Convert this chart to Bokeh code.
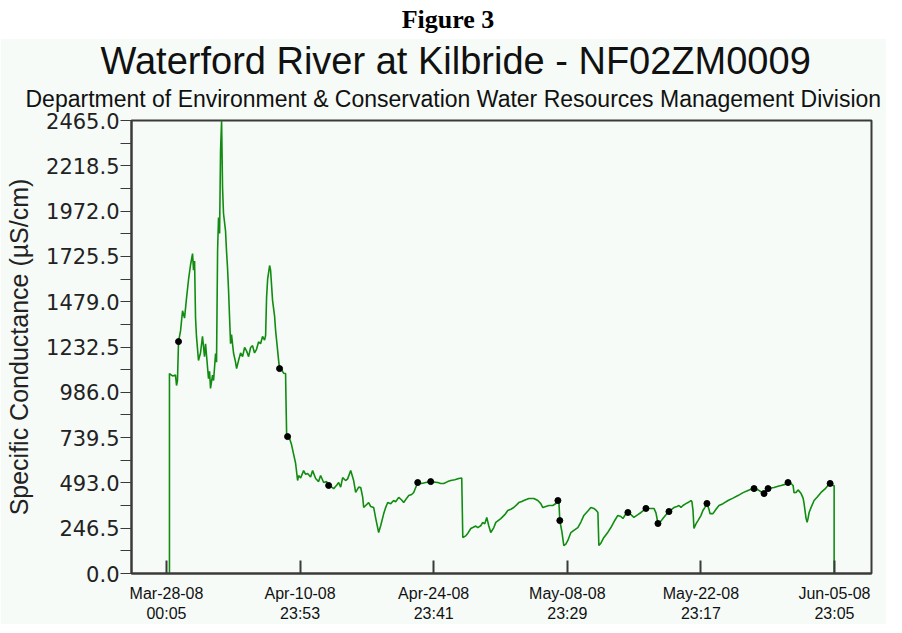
import numpy as np
import pandas as pd
from bokeh.plotting import figure
from bokeh.models import Div, Title, FixedTicker, NumeralTickFormatter, Range1d
from bokeh.layouts import column
from bokeh.embed import file_html
from bokeh.resources import INLINE

# ---------------- data ----------------
START = "2008-03-28 00:05"
# days since START
days = [0.31, 0.31, 0.63, 0.94, 1.05, 1.15, 1.26, 1.47, 1.68, 1.89, 2.10, 2.31, 2.52, 2.73, 2.83,
        2.94, 3.04, 3.14, 3.35, 3.56, 3.77, 3.98, 4.09, 4.30, 4.40, 4.51, 4.61, 4.82, 4.93, 5.14,
        5.24, 5.35, 5.45, 5.56, 5.66, 5.77, 5.87, 5.97, 6.18, 6.29, 6.39, 6.50, 6.60, 6.71, 6.81,
        7.02, 7.23, 7.34, 7.55, 7.76, 7.97, 8.18, 8.39, 8.60, 8.81, 9.01, 9.22, 9.43, 9.64, 9.85,
        10.06, 10.27, 10.38, 10.48, 10.59, 10.80, 10.90, 11.11, 11.32, 11.43, 11.64, 11.74, 11.84,
        12.05, 12.26, 12.47, 12.53, 12.58, 12.68, 12.89, 13.10, 13.31, 13.52, 13.73, 13.84, 14.05,
        14.36, 14.57, 14.78, 15.09, 15.30, 15.62, 15.93, 16.14, 16.46, 16.77, 16.98, 17.30, 17.51,
        17.82, 18.03, 18.24, 18.45, 18.76, 18.97, 19.29, 19.60, 19.81, 20.13, 20.34, 20.55, 20.65,
        20.86, 21.17, 21.38, 21.70, 21.91, 22.22, 22.43, 22.75, 22.96, 23.17, 23.48, 23.79, 24.00,
        24.32, 24.63, 24.84, 25.16, 25.37, 25.68, 25.89, 26.31, 26.73, 27.15, 27.67, 27.99, 28.41,
        28.72, 29.04, 29.45, 29.77, 30.19, 30.61, 30.92, 31.03, 31.34, 31.55, 31.87, 32.08, 32.39,
        32.60, 32.91, 33.12, 33.33, 33.54, 33.75, 33.96, 34.28, 34.49, 35.01, 35.43, 35.74, 36.06,
        36.37, 36.69, 36.90, 37.21, 37.42, 37.95, 38.47, 38.89, 39.20, 39.41, 39.73, 40.04, 40.46,
        40.78, 40.99, 41.09, 41.19, 41.40, 41.61, 41.82, 42.03, 42.35, 42.66, 43.08, 43.40, 43.71,
        44.13, 44.44, 44.76, 44.97, 45.18, 45.28, 45.49, 45.81, 46.23, 46.54, 46.96, 47.27, 47.59,
        47.80, 48.11, 48.32, 48.64, 48.95, 49.37, 49.69, 50.00, 50.21, 50.73, 51.05, 51.26, 51.47,
        51.78, 51.99, 52.31, 52.62, 52.94, 53.14, 53.46, 53.67, 53.88, 54.09, 54.40, 54.61, 54.93,
        55.03, 55.14, 55.24, 55.45, 55.66, 55.97, 56.18, 56.39, 56.60, 56.81, 56.92, 57.23, 57.55,
        57.86, 58.28, 58.81, 59.33, 59.85, 60.38, 60.90, 61.22, 61.53, 61.95, 62.26, 62.58, 62.79,
        63.00, 63.31, 63.63, 64.05, 64.36, 64.78, 65.09, 65.41, 65.62, 65.72, 65.93, 66.14, 66.46,
        66.67, 66.77, 66.98, 67.09, 67.19, 67.30, 67.51, 67.82, 68.13, 68.55, 68.97, 69.29, 69.50,
        69.81, 69.92, 69.92]
# specific conductance, uS/cm
cond = [0, 1088, 1075, 1080, 1023, 1050, 1262, 1320, 1430, 1390, 1500, 1600, 1680, 1741, 1650,
        1700, 1393, 1290, 1159, 1200, 1290, 1180, 1250, 1121, 1060, 1100, 1007, 1080, 1050, 1197,
        1150, 1757, 1937, 1850, 2300, 2465, 2100, 1959, 1866, 1750, 1665, 1540, 1400, 1251, 1300,
        1200, 1150, 1115, 1160, 1200, 1180, 1230, 1210, 1180, 1230, 1240, 1200, 1220, 1260, 1250,
        1290, 1270, 1295, 1500, 1600, 1676, 1650, 1485, 1400, 1320, 1213, 1160, 1115,
        1110, 1090, 1088, 900, 760, 745, 735, 700, 650, 600, 506, 533, 520,
        560, 540, 544, 525, 560, 517, 500, 533, 495, 500, 479, 470, 462,
        480, 495, 470, 522, 506, 515, 560, 506, 441, 470, 468, 414, 359,
        370, 386, 365, 359, 300, 223, 260, 326, 360, 386, 380, 397, 390,
        414, 400, 386, 410, 424, 430, 441, 495, 490, 495, 500, 497, 495,
        490, 490, 500, 506, 510, 517, 520, 196, 205, 218, 245, 250, 258,
        250, 260, 278, 270, 305, 260, 223, 250, 278, 299, 320, 343, 350,
        359, 375, 386, 392, 397, 408, 408, 397, 380, 359, 365, 370, 370,
        381, 397, 397, 288, 230, 152, 160, 180, 223, 235, 250, 280, 316,
        340, 359, 354, 345, 332, 152, 165, 196, 225, 250, 290, 316, 310,
        299, 325, 332, 320, 305, 320, 332, 345, 354, 354, 354, 330, 272,
        285, 299, 320, 337, 350, 359, 365, 370, 360, 370, 380, 386, 397,
        390, 343, 245, 270, 288, 315, 343, 360, 381, 350, 326, 326, 350,
        370, 380, 397, 410, 424, 440, 452, 458, 462, 455, 445, 435, 450,
        462, 465, 468, 475, 479, 485, 495, 490, 479, 440, 441, 455, 435,
        410, 381, 300, 278, 300, 332, 360, 397, 415, 441, 460, 480, 490,
        479, 479, 0]
# flagged readings (black dots)
flag_days = [1.26, 11.84, 12.68, 16.98, 26.31, 27.67, 40.99, 41.19, 48.32, 50.21, 51.47, 52.62,
             56.60, 61.53, 62.58, 63.00, 65.09, 69.50]
flag_cond = [1262, 1115, 745, 479, 495, 500, 397, 288, 332, 354, 272, 337,
             381, 462, 435, 462, 495, 490]

tick_times = ["2008-03-28 00:05", "2008-04-10 23:53", "2008-04-24 23:41",
              "2008-05-08 23:29", "2008-05-22 23:17", "2008-06-05 23:05"]
tick_labels = ["Mar-28-08\n00:05", "Apr-10-08\n23:53", "Apr-24-08\n23:41",
               "May-08-08\n23:29", "May-22-08\n23:17", "Jun-05-08\n23:05"]
y_ticks = [0.0, 246.5, 493.0, 739.5, 986.0, 1232.5, 1479.0, 1725.5, 1972.0, 2218.5, 2465.0]
y_minor = [123.25, 369.75, 616.25, 862.75, 1109.25, 1355.75, 1602.25, 1848.75, 2095.25, 2341.75]
x_start, x_end = "2008-03-24 08:07", "2008-06-09 20:05"

TITLE = "Waterford River at Kilbride - NF02ZM0009"
SUBTITLE = "Department of Environment & Conservation Water Resources Management Division"

# ---------------- build ----------------
t0 = pd.Timestamp(START)
times = t0 + pd.to_timedelta(days, unit="D")
ftimes = t0 + pd.to_timedelta(flag_days, unit="D")
tick_ms = [pd.Timestamp(t).value / 1e6 for t in tick_times]

BG = "#F6FBF8"
FONT = "Liberation Sans"

p = figure(width=886, height=586, x_axis_type="datetime",
           output_backend="svg", toolbar_location=None, title=TITLE,
           x_range=Range1d(pd.Timestamp(x_start), pd.Timestamp(x_end)),
           y_range=Range1d(0, 2465),
           min_border_left=131, min_border_right=15, min_border_top=82, min_border_bottom=51)
p.background_fill_color = BG
p.border_fill_color = BG
p.outline_line_color = "#3a3a3a"
p.outline_line_width = 2
p.grid.visible = False

p.title.align = "left"
p.title.offset = -31
p.title.text_font = FONT
p.title.text_font_size = "38px"
p.title.text_font_style = "normal"
p.title.text_color = "#111111"
p.title.standoff = -12
p.add_layout(Title(text=SUBTITLE, align="left", offset=-106, text_font=FONT,
                   text_font_size="23px", text_font_style="normal",
                   text_color="#111111", standoff=17), "above")

p.line(times, cond, line_color="#118C11", line_width=1.6)
p.scatter(ftimes, flag_cond, size=6, color="#000000")

xa = p.xaxis[0]
xa.ticker = FixedTicker(ticks=tick_ms)
xa.major_label_overrides = {ms: lab for ms, lab in zip(tick_ms, tick_labels)}
xa.major_tick_in = 13
xa.major_tick_out = 0
xa.minor_tick_line_color = None
xa.major_label_text_font = FONT
xa.major_label_text_font_size = "16px"
xa.major_label_text_color = "#111111"
xa.major_label_standoff = 11
xa.axis_line_color = "#3a3a3a"
xa.axis_line_width = 2
xa.major_tick_line_color = "#3a3a3a"
xa.major_tick_line_width = 2

ya = p.yaxis[0]
ya.ticker = FixedTicker(ticks=y_ticks, minor_ticks=y_minor)
ya.formatter = NumeralTickFormatter(format="0.0")
ya.major_tick_in = 0
ya.major_tick_out = 11
ya.minor_tick_in = 0
ya.minor_tick_out = 11
ya.major_tick_line_color = "#3a3a3a"
ya.minor_tick_line_color = "#3a3a3a"
ya.axis_line_color = "#3a3a3a"
ya.axis_line_width = 2
ya.major_label_text_font = "DejaVu Sans"
ya.major_label_text_font_size = "21px"
ya.major_label_text_color = "#222222"
ya.major_label_standoff = 1
ya.axis_label = "Specific Conductance (\u00b5S/cm)"
ya.axis_label_text_font = FONT
ya.axis_label_text_font_size = "25px"
ya.axis_label_text_font_style = "normal"
ya.axis_label_text_color = "#222222"
ya.axis_label_standoff = 10

header = Div(text="Figure 3", width=886, height=28,
             styles={"font-family": "'Liberation Serif', 'Times New Roman', serif",
                     "font-weight": "bold", "font-size": "26px", "text-align": "center",
                     "width": "886px", "line-height": "30px", "color": "#000"})

layout = column(header, p, spacing=0)
open("out.html", "w").write(file_html(layout, INLINE))
